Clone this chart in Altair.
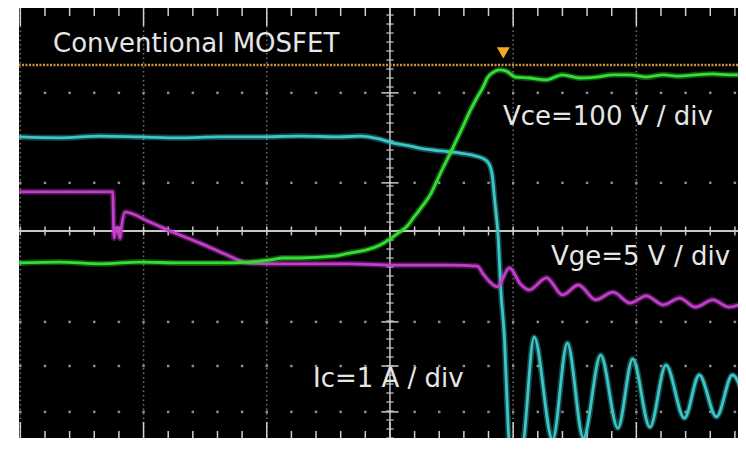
import altair as alt
import pandas as pd

# ---- trace data (x: time in divisions, 0 = centre line;
#      y: screen divisions above the centre graticule line) ----
vce_t = [-3.01, -2.68, -2.35, -2.03, -1.70, -1.38, -1.14, -0.97, -0.87, -0.73,
         -0.46, -0.33, -0.19, -0.08, 0.00, 0.08, 0.14, 0.20, 0.27, 0.33,
         0.38, 0.43, 0.49, 0.54, 0.59, 0.65, 0.71, 0.76, 0.79, 0.84,
         0.89, 0.94, 1.02, 1.13, 1.27, 1.40, 1.54, 1.67, 1.81, 1.94,
         2.08, 2.22, 2.35, 2.48, 2.62, 2.75, 2.89]
vce_y = [-0.71, -0.69, -0.73, -0.69, -0.71, -0.71, -0.69, -0.64, -0.60, -0.60,
         -0.56, -0.49, -0.42, -0.31, -0.18, -0.02, 0.11, 0.33, 0.58, 0.82,
         1.11, 1.40, 1.73, 2.02, 2.31, 2.67, 2.98, 3.22, 3.40, 3.53,
         3.58, 3.56, 3.42, 3.40, 3.36, 3.47, 3.40, 3.42, 3.47, 3.47,
         3.42, 3.47, 3.44, 3.47, 3.49, 3.47, 3.47]

ic_t = [-3.01, -2.68, -2.35, -2.03, -1.70, -1.38, -1.06, -0.73, -0.41, -0.24,
        -0.08, 0.02, 0.16, 0.24, 0.41, 0.57, 0.69, 0.75, 0.80, 0.83,
        0.85, 0.88, 0.90, 0.93, 0.95, 0.97, 1.02, 1.07, 1.17, 1.32,
        1.44, 1.57, 1.71, 1.85, 1.97, 2.11, 2.24, 2.39, 2.51, 2.65,
        2.78, 2.89]
ic_y = [2.09, 2.07, 2.11, 2.09, 2.07, 2.09, 2.09, 2.11, 2.09, 2.11,
        2.04, 1.96, 1.89, 1.84, 1.78, 1.73, 1.67, 1.62, 1.51, 1.24,
        0.69, -0.20, -1.31, -2.42, -3.76, -4.76, -4.80, -4.80, -2.36, -4.64,
        -2.49, -4.60, -2.76, -4.38, -2.84, -4.36, -2.98, -4.16, -3.20, -4.13,
        -3.20, -3.87]

vge_t = [-3.01, -2.68, -2.25, -2.24, -2.22, -2.19, -2.18, -2.15, -1.95, -1.75,
         -1.54, -1.34, -1.15, -0.97, -0.73, -0.32, 0.08, 0.49, 0.71, 0.75,
         0.81, 0.87, 0.97, 1.06, 1.13, 1.27, 1.40, 1.53, 1.67, 1.81,
         1.95, 2.08, 2.22, 2.35, 2.48, 2.62, 2.75, 2.89]
vge_y = [0.87, 0.87, 0.87, -0.16, 0.09, -0.16, 0.07, 0.42, 0.20, -0.04,
         -0.27, -0.51, -0.71, -0.73, -0.73, -0.73, -0.76, -0.76, -0.78, -0.93,
         -1.13, -1.24, -0.82, -1.18, -1.31, -1.04, -1.42, -1.20, -1.53, -1.36,
         -1.60, -1.44, -1.64, -1.49, -1.69, -1.53, -1.69, -1.58]

ref_level = [3.69]
trigger_t = [0.92]
trigger_y = [3.96]

grid_cols = [-3, -2, -1, 1, 2]
grid_rows = [3.07, 1.07, -2.02, -3.0, -4.02]

labels = ["Conventional MOSFET", "Vce=100 V / div", "Vge=5 V / div", "Ic=1 A / div"]
label_t = [-2.735, 0.917, 1.307, -0.625]
label_y = [3.98, 2.36, -0.76, -3.47]

# ---- tables ----
minor_t = [round(0.2 * i, 2) for i in range(-15, 15)]
minor_y = [round(0.2 * i, 2) for i in range(-23, 25)]

xs = alt.Scale(domain=[-3.011, 2.825], nice=False, zero=False)
ys = alt.Scale(domain=[-4.6, 4.956], nice=False, zero=False)
X = lambda f: alt.X(f, scale=xs, axis=None)
Y = lambda f: alt.Y(f, scale=ys, axis=None)

GRID = "#9a9a9a"
AXIS = "#c8c8c8"

vlines = alt.Chart(pd.DataFrame({"t": grid_cols})).mark_rule(
    color=GRID, strokeWidth=1.5, strokeDash=[1.5, 3], opacity=0.75
).encode(x=X("t:Q"))

dots = pd.DataFrame([{"t": t, "y": r} for r in grid_rows for t in minor_t])
rowdots = alt.Chart(dots).mark_square(size=6, color="#a8a8a8", opacity=0.85).encode(
    x=X("t:Q"), y=Y("y:Q"))

hcentre = alt.Chart(pd.DataFrame({"y": [0.0]})).mark_rule(
    color=AXIS, strokeWidth=2).encode(y=Y("y:Q"))
vcentre = alt.Chart(pd.DataFrame({"t": [0.0]})).mark_rule(
    color=AXIS, strokeWidth=1.5).encode(x=X("t:Q"))

htick_df = pd.DataFrame({"t": minor_t, "y0": -0.1, "y1": 0.1})
hticks = alt.Chart(htick_df).mark_rule(color=AXIS, strokeWidth=1.5).encode(
    x=X("t:Q"), y=Y("y0:Q"), y2="y1:Q")

vtick_df = pd.DataFrame({"y": minor_y, "x0": -0.03, "x1": 0.03})
vticks = alt.Chart(vtick_df).mark_rule(color=AXIS, strokeWidth=1.2).encode(
    y=Y("y:Q"), x=X("x0:Q"), x2="x1:Q")
vmajor_df = pd.DataFrame({"y": grid_rows, "x0": -0.07, "x1": 0.07})
vmajor = alt.Chart(vmajor_df).mark_rule(color=AXIS, strokeWidth=1.5).encode(
    y=Y("y:Q"), x=X("x0:Q"), x2="x1:Q")

edge_minor = pd.DataFrame({"t": [t for t in minor_t if abs(t - round(t)) > 1e-6]})
edge_major = pd.DataFrame({"t": [float(c) for c in grid_cols] + [0.0]})
top_minor = alt.Chart(edge_minor).mark_rule(color="#d0d0d0", strokeWidth=1.5).encode(
    x=X("t:Q"), y=alt.value(0), y2=alt.value(8))
top_major = alt.Chart(edge_major).mark_rule(color="#d0d0d0", strokeWidth=1.5).encode(
    x=X("t:Q"), y=alt.value(0), y2=alt.value(18))
bot_minor = alt.Chart(edge_minor).mark_rule(color="#d0d0d0", strokeWidth=1.5).encode(
    x=X("t:Q"), y=alt.value(430), y2=alt.value(423))
bot_major = alt.Chart(edge_major).mark_rule(color="#d0d0d0", strokeWidth=1.5).encode(
    x=X("t:Q"), y=alt.value(430), y2=alt.value(414))

ref = alt.Chart(pd.DataFrame({"y": ref_level})).mark_rule(
    color="#d0903a", strokeWidth=2.5, strokeDash=[2, 1.5]).encode(y=Y("y:Q"))
trig = alt.Chart(pd.DataFrame({"t": trigger_t, "y": trigger_y})).mark_point(
    shape="triangle-down", filled=True, size=170, color="#f7a823", opacity=1).encode(
    x=X("t:Q"), y=Y("y:Q"))

def trace(ts, vals, color):
    df = pd.DataFrame({"t": ts, "y": vals, "i": range(len(ts))})
    base = alt.Chart(df).encode(x=X("t:Q"), y=Y("y:Q"), order="i:Q")
    halo = base.mark_line(color=color, strokeWidth=6, opacity=0.35, clip=True,
                          interpolate="monotone")
    core = base.mark_line(color=color, strokeWidth=2.8, clip=True,
                          interpolate="monotone")
    return alt.layer(halo, core)

ic = trace(ic_t, ic_y, "#3cc6c6")
vce = trace(vce_t, vce_y, "#33df33")
vge = trace(vge_t, vge_y, "#c43ccc")

text = alt.Chart(pd.DataFrame({"t": label_t, "y": label_y, "s": labels})).mark_text(
    align="left", baseline="alphabetic", font="DejaVu Sans", fontSize=26,
    fontWeight="normal", color="#e6e6e6").encode(x=X("t:Q"), y=Y("y:Q"), text="s:N")

chart = alt.layer(
    vlines, rowdots, hcentre, vcentre, hticks, vticks, vmajor,
    top_minor, top_major, bot_minor, bot_major,
    ref, ic, vge, vce, trig, text
).properties(
    width=719, height=430,
    padding={"left": 11, "top": 0, "right": 0, "bottom": 0},
    autosize="none", background="white"
).configure_view(fill="black", strokeWidth=0)

chart.save("out.html", embed_options={"renderer": "svg", "actions": False})
